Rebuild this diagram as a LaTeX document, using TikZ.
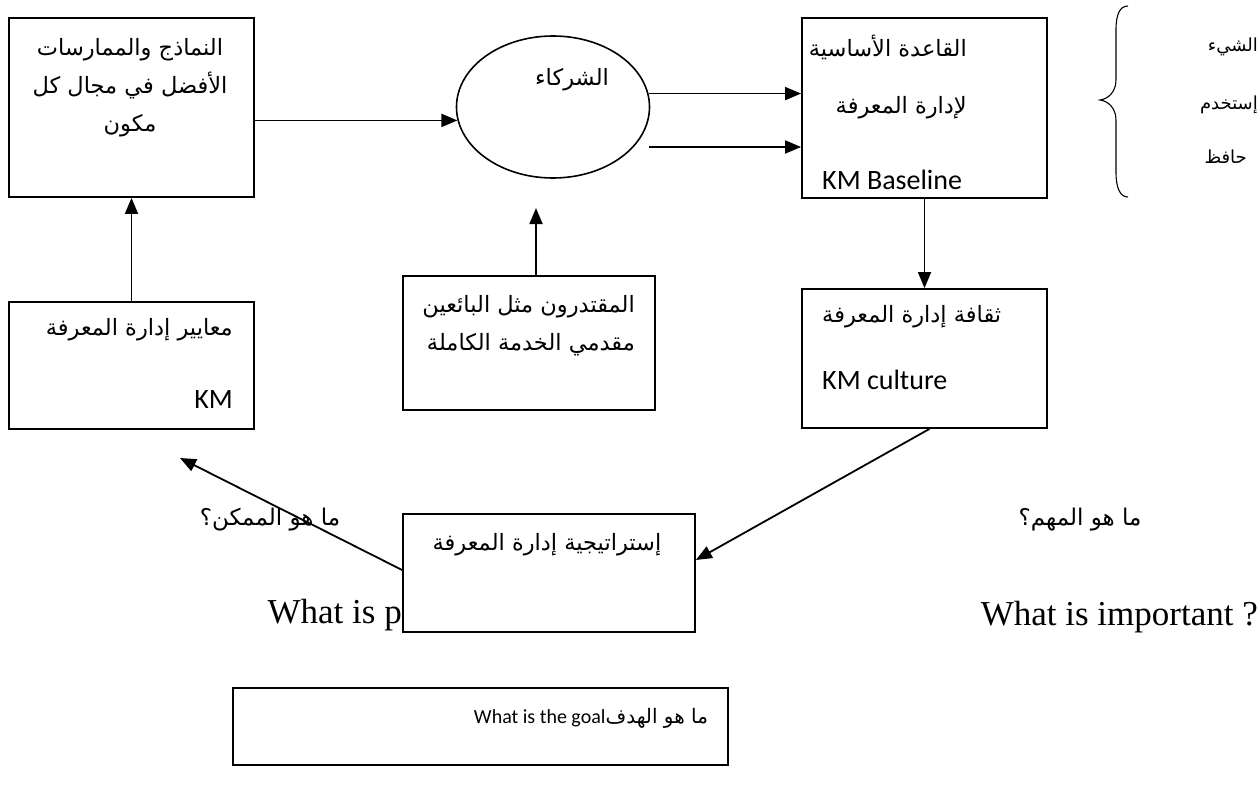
\documentclass[tikz,border=0pt]{standalone}
\usepackage{fontspec}
\setmainfont{Liberation Serif}
\newfontfamily\arf[Script=Arabic]{DejaVu Sans}
\newfontfamily\calf{Carlito}
\TeXXeTstate=1
\usetikzlibrary{arrows.meta,shapes.geometric}
\begin{document}
\begin{tikzpicture}[x=1pt,y=-1pt,
  box/.style={draw,line width=1.8pt,inner sep=0pt,fill=white},
  arr/.style={line width=1.8pt,-{Triangle[length=16pt,width=13pt]}},
  artxt/.style={inner sep=0pt,font=\arf\fontsize{22.5}{38}\selectfont},
  entxt/.style={inner sep=0pt,font=\calf\fontsize{28}{34}\selectfont},
  label/.style={inner sep=0pt,font=\arf\fontsize{23}{26}\selectfont},
  small/.style={inner sep=0pt,font=\arf\fontsize{18}{20}\selectfont},
  big/.style={inner sep=0pt,font=\fontsize{35}{40}\selectfont}]
\useasboundingbox[fill=white] (0,0) rectangle (1259,792);

% boxes
\node[box,minimum width=245pt,minimum height=179pt] (bpm) at (131.5,107.5) {};
\node[draw,line width=1.6pt,ellipse,minimum width=193pt,minimum height=142pt,inner sep=0pt] (partners) at (553,107) {};
\node[box,minimum width=245pt,minimum height=180pt] (base) at (924.5,108) {};
\node[box,minimum width=245pt,minimum height=139pt] (culture) at (924.5,358.5) {};
\node[box,minimum width=252pt,minimum height=134pt] (vendors) at (529,343) {};
\node[box,minimum width=245pt,minimum height=127pt] (std) at (131.5,365.5) {};
\node[big,anchor=base east] (possible) at (402,623) {What is p};
\node[box,minimum width=292pt,minimum height=118pt] (strat) at (549,573) {};
\node[box,minimum width=495pt,minimum height=77pt] (goal) at (480.5,726.5) {};

% texts
\node[artxt,align=center] (bpmtext) at (130,88) {\beginR النماذج والممارسات\endR\\\beginR الأفضل في مجال كل\endR\\\beginR مكون\endR};
\node[artxt] (partnerstext) at (572,80) {\beginR الشركاء\endR};
\node[artxt,anchor=east] (base1) at (967,47) {\beginR القاعدة الأساسية\endR};
\node[artxt,anchor=east] (base2) at (967,108) {\beginR لإدارة المعرفة\endR};
\node[entxt,anchor=base west] (base3) at (822,189) {KM Baseline};
\node[artxt,anchor=west] (cult1) at (822,317) {\beginR ثقافة إدارة المعرفة\endR};
\node[entxt,anchor=west] (cult2) at (822,380) {KM culture};
\node[artxt,anchor=east,align=right] (vendtext) at (635,326) {\beginR المقتدرون مثل البائعين\endR\\\beginR مقدمي الخدمة الكاملة\endR};
\node[artxt,anchor=east] (std1) at (233,330) {\beginR معايير إدارة المعرفة\endR};
\node[entxt,anchor=east] (std2) at (233,400) {KM};
\node[artxt] (strattext) at (547,545) {\beginR إستراتيجية إدارة المعرفة\endR};
\node[inner sep=0pt,font=\calf\fontsize{20}{24}\selectfont] (goaltext) at (591,718) {What is the goal{\arf\beginR ما هو الهدف\endR}};

% brace and its words
\draw[line width=1.1pt] (1128,6) .. controls (1120,6) and (1116,14) .. (1116,30) -- (1116,80)
  .. controls (1116,92) and (1108,99) .. (1100,100)
  .. controls (1108,101) and (1116,108) .. (1116,120) -- (1116,172)
  .. controls (1116,188) and (1120,197) .. (1128,197);
\node[small,anchor=east] (w1) at (1258,47) {\beginR الشيء\endR};
\node[small,anchor=east] (w2) at (1258,105) {\beginR إستخدم\endR};
\node[small,anchor=east] (w3) at (1247,157) {\beginR حافظ\endR};

% labels
\node[label] (possq) at (270,520) {\beginR ما هو الممكن؟\endR};
\node[label] (impq) at (1080,520) {\beginR ما هو المهم؟\endR};
\node[big,anchor=base east] (important) at (1258,625) {What is important ?};

% connectors
\coordinate (lowstart) at (649,147);
\coordinate (vtip) at (536,208);
\coordinate (stdtip) at (180,458);
\draw[arr] (bpm.east |- partners.188) -- (partners.188);
\draw[arr] (partners.8) -- (partners.8 -| base.west);
\draw[arr] (lowstart) -- (lowstart -| base.west);
\draw[arr] (vendors.north -| vtip) -- (vtip);
\draw[arr] (std.north) -- (bpm.south);
\draw[arr] (base.south) -- (culture.north);
\draw[arr] ([xshift=5pt]culture.south) -- ([yshift=13pt]strat.east);
\draw[arr] ([yshift=3pt]strat.west) -- (stdtip);
\end{tikzpicture}
\end{document}
